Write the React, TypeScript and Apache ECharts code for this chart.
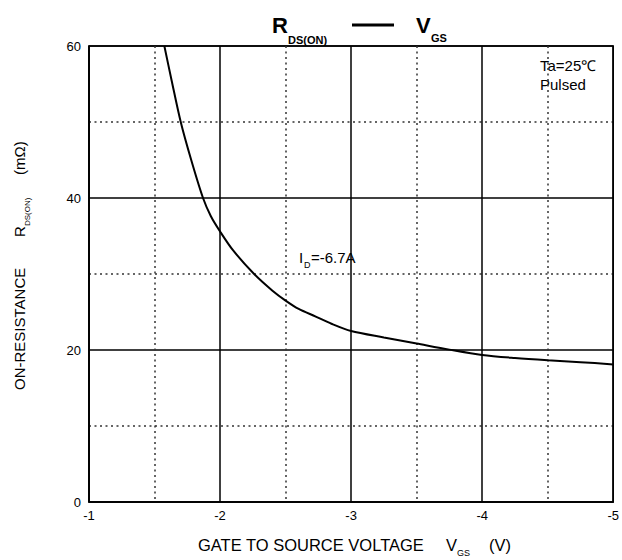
import React, { useEffect, useRef } from "react";
import * as echarts from "echarts";

const vgs = [-1.575, -1.63, -1.7, -1.78, -1.87, -1.93, -2.0, -2.1, -2.26, -2.4, -2.5, -2.6, -2.73, -2.85, -3.0, -3.25, -3.5, -3.75, -4.0, -4.25, -4.5, -4.75, -5.0];
const rds = [60, 55.5, 50, 45, 40, 37.6, 35.6, 33.1, 30, 27.8, 26.5, 25.4, 24.4, 23.45, 22.5, 21.65, 20.85, 20.05, 19.35, 18.95, 18.65, 18.4, 18.1];
const xTicks = [-1, -2, -3, -4, -5];
const yTicks = [0, 20, 40, 60];

const FONT = "'Liberation Sans', Arial, sans-serif";

export default function App() {
  const ref = useRef<HTMLDivElement>(null);
  useEffect(() => {
    if (!ref.current) return;
    const chart = echarts.init(ref.current, null, { renderer: "svg" });
    const data = vgs.map((v, i) => [v, rds[i]]);
    const majorLine = { color: "#000", width: 1.5, type: "solid" as const };
    const minorLine = { color: "#333", width: 1.5, type: [2, 3.5] as any };
    chart.setOption({
      animation: false,
      backgroundColor: "#fff",
      textStyle: { fontFamily: FONT },
      grid: {
        left: 89,
        right: 7,
        top: 46,
        bottom: 58,
        show: true,
        borderColor: "#000",
        borderWidth: 1.5,
        containLabel: false,
      },
      xAxis: {
        type: "value",
        inverse: true,
        min: xTicks[xTicks.length - 1],
        max: xTicks[0],
        interval: 1,
        axisLine: { show: true, lineStyle: { color: "#000", width: 1.5 } },
        axisTick: { show: false },
        axisLabel: { color: "#000", fontSize: 13, fontFamily: FONT, margin: 7 },
        splitLine: { show: true, lineStyle: majorLine },
        minorTick: { show: false, splitNumber: 2 },
        minorSplitLine: { show: true, lineStyle: minorLine },
      },
      yAxis: {
        type: "value",
        min: yTicks[0],
        max: yTicks[yTicks.length - 1],
        interval: 20,
        axisLine: { show: true, lineStyle: { color: "#000", width: 1.5 } },
        axisTick: { show: false },
        axisLabel: { color: "#000", fontSize: 13, fontFamily: FONT, margin: 8 },
        splitLine: { show: true, lineStyle: majorLine },
        minorTick: { show: false, splitNumber: 2 },
        minorSplitLine: { show: true, lineStyle: minorLine },
      },
      series: [
        {
          type: "line",
          data,
          smooth: 0.3,
          showSymbol: false,
          lineStyle: { color: "#000", width: 2 },
          z: 5,
        },
      ],
      graphic: [
        // Title
        { type: "text", x: 272, y: 25, style: { text: "R", font: `bold 22px ${FONT}`, fill: "#000", textAlign: "left", textVerticalAlign: "middle" } },
        { type: "text", x: 288, y: 40, style: { text: "DS(ON)", font: `bold 11px ${FONT}`, fill: "#000", textAlign: "left", textVerticalAlign: "middle" } },
        { type: "line", shape: { x1: 352, y1: 25, x2: 394, y2: 25 }, style: { stroke: "#000", lineWidth: 3 } },
        { type: "text", x: 416, y: 25, style: { text: "V", font: `bold 22px ${FONT}`, fill: "#000", textAlign: "left", textVerticalAlign: "middle" } },
        { type: "text", x: 431, y: 38, style: { text: "GS", font: `bold 11px ${FONT}`, fill: "#000", textAlign: "left", textVerticalAlign: "middle" } },
        // Annotations
        { type: "text", x: 540, y: 65, style: { text: "Ta=25℃", font: `15px ${FONT}`, fill: "#000", textAlign: "left", textVerticalAlign: "middle" } },
        { type: "text", x: 540, y: 84, style: { text: "Pulsed", font: `15px ${FONT}`, fill: "#000", textAlign: "left", textVerticalAlign: "middle" } },
        { type: "text", x: 299, y: 257, style: { text: "I", font: `15px ${FONT}`, fill: "#000", textAlign: "left", textVerticalAlign: "middle" } },
        { type: "text", x: 304, y: 265, style: { text: "D", font: `9px ${FONT}`, fill: "#000", textAlign: "left", textVerticalAlign: "middle" } },
        { type: "text", x: 311, y: 257, style: { text: "=-6.7A", font: `15px ${FONT}`, fill: "#000", textAlign: "left", textVerticalAlign: "middle" } },
        // X axis title
        { type: "text", x: 198, y: 545, style: { text: "GATE TO SOURCE VOLTAGE", font: `16.5px ${FONT}`, fill: "#000", textAlign: "left", textVerticalAlign: "middle" } },
        { type: "text", x: 446, y: 545, style: { text: "V", font: `16.5px ${FONT}`, fill: "#000", textAlign: "left", textVerticalAlign: "middle" } },
        { type: "text", x: 457, y: 553, style: { text: "GS", font: `9px ${FONT}`, fill: "#000", textAlign: "left", textVerticalAlign: "middle" } },
        { type: "text", x: 489, y: 545, style: { text: "(V)", font: `16.5px ${FONT}`, fill: "#000", textAlign: "left", textVerticalAlign: "middle" } },
        // Y axis title (rotated)
        {
          type: "group",
          x: 19,
          y: 390,
          rotation: Math.PI / 2,
          children: [
            { type: "text", x: 0, y: 0, style: { text: "ON-RESISTANCE", font: `15px ${FONT}`, fill: "#000", textAlign: "left", textVerticalAlign: "middle" } },
            { type: "text", x: 153, y: 0, style: { text: "R", font: `15px ${FONT}`, fill: "#000", textAlign: "left", textVerticalAlign: "middle" } },
            { type: "text", x: 164, y: 8, style: { text: "DS(ON)", font: `8px ${FONT}`, fill: "#000", textAlign: "left", textVerticalAlign: "middle" } },
            { type: "text", x: 215, y: 0, style: { text: "(mΩ)", font: `15px ${FONT}`, fill: "#000", textAlign: "left", textVerticalAlign: "middle" } },
          ],
        },
      ],
    });
    return () => chart.dispose();
  }, []);
  return (
    <div
      ref={ref}
      style={{ position: "fixed", left: 0, top: 0, width: 622, height: 560, background: "#fff" }}
    />
  );
}
